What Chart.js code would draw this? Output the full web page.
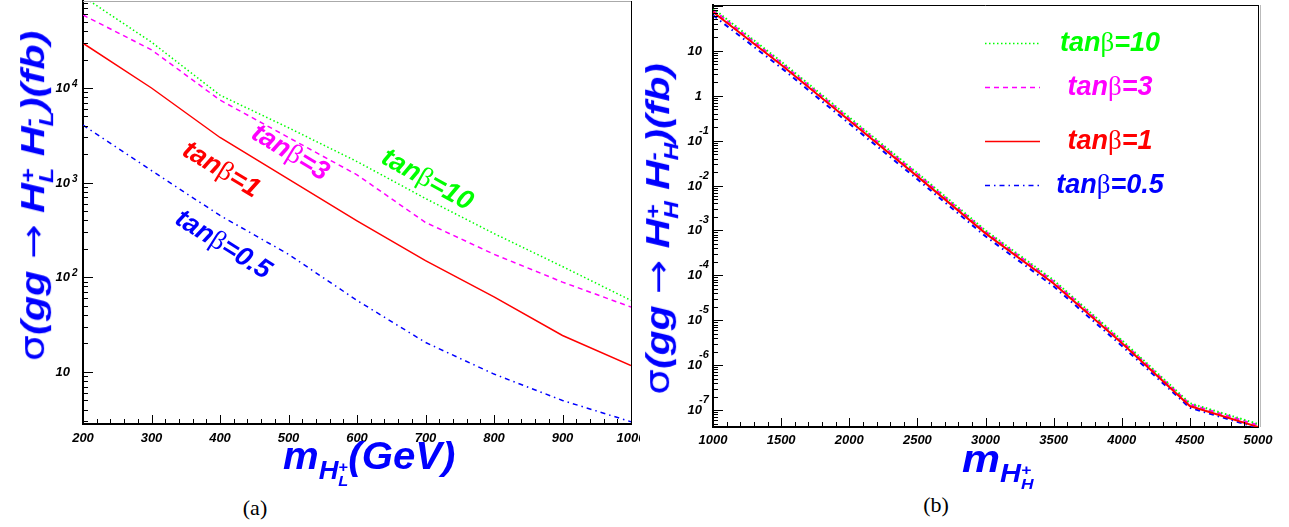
<!DOCTYPE html>
<html>
<head>
<meta charset="utf-8">
<script src="https://cdn.jsdelivr.net/npm/chart.js@4.4.1/dist/chart.umd.min.js"></script>
<style>
  body { margin: 0; background: #fff; width: 1289px; height: 527px; overflow: hidden; position: relative; }
  .box { position: absolute; top: 0; height: 446px; }
  #boxA { left: 0; width: 640px; }
  #boxB { left: 640px; width: 649px; }
  .ttl { position: absolute; color: #0000ff; font: italic bold 33px "Liberation Sans", Arial, sans-serif;
         white-space: nowrap; line-height: 1; z-index: 2; }
  .xt { font-size: 38px; }
  .sym { font-style: normal; font-weight: normal; font-family: "DejaVu Sans", sans-serif; }
  .stk { display: inline-block; font-size: 0.6em; line-height: 0.9; vertical-align: -0.45em; text-align: left; }
  .stk span { display: block; }
  .sub { font-size: 0.68em; vertical-align: -0.38em; }
  .cap { position: absolute; font: 22px "Liberation Serif", serif; color: #000; transform: translate(-50%, -50%); }
</style>
</head>
<body>
<div class="box" id="boxA"><canvas id="chartA"></canvas></div>
<div class="box" id="boxB"><canvas id="chartB"></canvas></div>

<div class="ttl" id="yTitleA"><span class="sym">σ</span>(gg <span class="sym">→</span> H<span class="stk"><span>+</span><span>L</span></span> H<span class="stk"><span>-</span><span>L</span></span>)(fb)</div>
<div class="ttl" id="yTitleB"><span class="sym">σ</span>(gg <span class="sym">→</span> H<span class="stk"><span>+</span><span>H</span></span> H<span class="stk"><span>-</span><span>H</span></span>)(fb)</div>
<div class="ttl xt" id="xTitleA">m<span class="sub">H<span class="stk"><span>+</span><span>L</span></span></span>(GeV)</div>
<div class="ttl xt" id="xTitleB">m<span class="sub">H<span class="stk"><span>+</span><span>H</span></span></span></div>
<div class="cap" style="left:255px; top:508px;">(a)</div>
<div class="cap" style="left:936px; top:505px;">(b)</div>

<script>
// light charged Higgs, panel (a)
const massL = [200, 300, 400, 500, 600, 700, 800, 900, 1000];
const xsecL_tb10 = [92500, 30500, 8400, 3800, 1670, 680, 290, 130, 57];
const xsecL_tb3 = [59000, 25300, 7460, 3000, 1210, 380, 175, 89, 48.5];
const xsecL_tb1 = [29700, 10000, 3000, 1090, 395, 150, 62, 24.3, 11.7];
const xsecL_tb05 = [4060, 1340, 450, 175, 57, 20.5, 9.5, 5.0, 2.98];

// heavy charged Higgs, panel (b)
const massH = [1000, 1500, 2000, 2500, 3000, 3500, 4000, 4500, 5000];
const xsecH_tb10 = [88, 5.8, 0.33, 0.019, 1.0e-3, 7.8e-5, 3.6e-6, 1.42e-7, 4.9e-8];
const xsecH_tb3 = [82, 5.4, 0.31, 0.018, 9.5e-4, 7.3e-5, 3.4e-6, 1.35e-7, 4.6e-8];
const xsecH_tb1 = [73, 4.9, 0.28, 0.016, 8.6e-4, 6.6e-5, 3.1e-6, 1.23e-7, 4.2e-8];
const xsecH_tb05 = [62, 4.2, 0.24, 0.0138, 7.4e-4, 5.7e-5, 2.7e-6, 1.12e-7, 4.0e-8];

const tanBetaLabels = ['10', '3', '1', '0.5'];
const lineColors = ['#00ff00', '#ff00ff', '#ff0000', '#0000ff'];
const lineDashes = [[1.5, 2.5], [5, 4], [], [5, 4, 1.5, 4]];

const SANS = '"Liberation Sans", Arial, sans-serif';

const drawTan = (ctx, value, x, y, angle, color, size) => {
  const parts = [
    ['tan', `italic bold ${size}px ${SANS}`],
    ['β', `${size}px "Liberation Serif", serif`],
    ['=' + value, `italic bold ${size}px ${SANS}`]
  ];
  ctx.save();
  let total = 0;
  const widths = parts.map(([t, f]) => {
    ctx.font = f;
    const w = ctx.measureText(t).width;
    total += w;
    return w;
  });
  ctx.translate(x, y);
  ctx.rotate(angle * Math.PI / 180);
  ctx.fillStyle = color;
  ctx.textBaseline = 'middle';
  ctx.textAlign = 'left';
  let cx = -total / 2;
  parts.forEach(([t, f], i) => {
    ctx.font = f;
    ctx.fillText(t, cx, 0);
    cx += widths[i];
  });
  ctx.restore();
};

// inward ticks, frame and power-of-ten labels
const axisDecor = (cfg) => ({
  id: 'axisDecor',
  afterDraw(chart) {
    const { ctx, chartArea: a } = chart;
    const x = chart.scales.x;
    const y = chart.scales.y;
    ctx.save();
    ctx.strokeStyle = '#000';
    ctx.lineWidth = 1;

    const nMinor = Math.round((x.max - x.min) / cfg.xMinor);
    const perMajor = Math.round(cfg.xMajor / cfg.xMinor);
    for (let i = 0; i <= nMinor; i++) {
      const px = Math.round(x.getPixelForValue(x.min + i * cfg.xMinor)) + 0.5;
      const len = i % perMajor === 0 ? 9 : 5;
      ctx.beginPath();
      ctx.moveTo(px, a.bottom);
      ctx.lineTo(px, a.bottom - len);
      ctx.stroke();
    }

    const e0 = Math.floor(Math.log10(y.min));
    const e1 = Math.ceil(Math.log10(y.max));
    for (let e = e0; e <= e1; e++) {
      for (let k = 1; k <= 9; k++) {
        const v = k * Math.pow(10, e);
        if (v < y.min || v > y.max) continue;
        const py = Math.round(y.getPixelForValue(v)) + 0.5;
        ctx.beginPath();
        ctx.moveTo(a.left, py);
        ctx.lineTo(a.left + (k === 1 ? 10 : 5), py);
        ctx.stroke();
        if (k === 1 && py > a.top + 10) {
          const s = cfg.label;
          ctx.fillStyle = '#000';
          ctx.textBaseline = 'middle';
          let base = '10';
          let exp = '';
          if (e === 0) base = '1';
          else if (e !== 1) exp = String(e);
          ctx.font = `italic bold 13px ${SANS}`;
          ctx.textAlign = 'right';
          ctx.fillText(base, a.left - s.baseGap, py);
          if (exp) {
            ctx.font = `italic bold ${s.expSize}px ${SANS}`;
            ctx.textAlign = 'left';
            ctx.fillText(exp, a.left - s.expGap, py - s.expRise);
          }
        }
      }
    }

    // top and right frame
    ctx.strokeStyle = cfg.topColor;
    ctx.beginPath();
    ctx.moveTo(a.left, a.top + 0.5);
    ctx.lineTo(a.right, a.top + 0.5);
    ctx.stroke();
    ctx.strokeStyle = '#000';
    ctx.beginPath();
    ctx.moveTo(a.right + 0.5, a.top);
    ctx.lineTo(a.right + 0.5, a.bottom);
    ctx.stroke();
    if (cfg.shadow) {
      ctx.strokeStyle = '#bbb';
      ctx.beginPath();
      ctx.moveTo(a.right + 2.5, a.top);
      ctx.lineTo(a.right + 2.5, a.bottom);
      ctx.stroke();
    }
    ctx.restore();
    if (cfg.extra) cfg.extra(chart);
  }
});

const makeSets = (series, width) => series.map((data, i) => ({
  label: 'tanβ=' + tanBetaLabels[i],
  data,
  borderColor: lineColors[i],
  borderDash: lineDashes[i],
  borderWidth: width,
  pointRadius: 0,
  tension: 0,
  fill: false,
  order: i === 2 ? 0 : 1
}));

const makePanel = (canvasId, masses, series, o) => {
  const sets = makeSets(series, o.lineWidth);
  return new Chart(document.getElementById(canvasId), {
    type: 'line',
    data: {
      labels: masses,
      datasets: sets.map((s) => ({ ...s, data: s.data.map((v, j) => ({ x: masses[j], y: v })) }))
    },
    options: {
      responsive: true,
      maintainAspectRatio: false,
      animation: false,
      events: [],
      layout: { padding: o.padding },
      plugins: { legend: { display: false }, tooltip: { enabled: false } },
      scales: {
        x: {
          type: 'linear',
          min: o.xMin,
          max: o.xMax,
          grid: { display: false, drawTicks: false },
          border: { color: '#000', width: 2 },
          ticks: {
            stepSize: o.xMajor,
            autoSkip: false,
            maxRotation: 0,
            padding: o.xPad,
            color: '#000',
            font: { family: SANS, size: 13, style: 'italic', weight: 'bold' },
            callback: (v) => String(v)
          },
          afterFit: (scale) => {
            scale.height = o.xHeight;
            scale.paddingLeft = 0;
            scale.paddingRight = 0;
          }
        },
        y: {
          type: 'logarithmic',
          min: o.yMin,
          max: o.yMax,
          grid: { display: false, drawTicks: false },
          border: { color: '#000', width: 2 },
          ticks: { display: false },
          afterFit: (scale) => {
            scale.width = o.yWidth;
            scale.paddingTop = 0;
            scale.paddingBottom = 0;
          }
        }
      }
    },
    plugins: [axisDecor(o.decor)]
  });
};

makePanel('chartA', massL, [xsecL_tb10, xsecL_tb3, xsecL_tb1, xsecL_tb05], {
  lineWidth: 1.5,
  padding: { top: 1, right: 9, left: 0, bottom: 0 },
  xMin: 200, xMax: 1000, xMajor: 100, xPad: 7, xHeight: 22,
  yMin: 2.82, yMax: 83000, yWidth: 83,
  decor: {
    xMinor: 20, xMajor: 100, topColor: '#aaa', shadow: false,
    label: { baseGap: 13, expGap: 11, expRise: 4, expSize: 10 },
    extra: (chart) => {
      const ctx = chart.ctx;
      drawTan(ctx, tanBetaLabels[0], 427, 180, 29, lineColors[0], 27);
      drawTan(ctx, tanBetaLabels[1], 290, 153, 31, lineColors[1], 27);
      drawTan(ctx, tanBetaLabels[2], 221, 170, 31, lineColors[2], 27);
      drawTan(ctx, tanBetaLabels[3], 223, 245, 32, lineColors[3], 27);
    }
  }
});

makePanel('chartB', massH, [xsecH_tb10, xsecH_tb3, xsecH_tb1, xsecH_tb05], {
  lineWidth: 2,
  padding: { top: 5, right: 31, left: 0, bottom: 0 },
  xMin: 1000, xMax: 5000, xMajor: 500, xPad: 6, xHeight: 19,
  yMin: 4.19e-8, yMax: 105, yWidth: 73,
  decor: {
    xMinor: 100, xMajor: 500, topColor: '#000', shadow: true,
    label: { baseGap: 11, expGap: 14, expRise: 11, expSize: 11 },
    extra: (chart) => {
      const ctx = chart.ctx;
      const a = chart.chartArea;
      const rows = [38, 82, 136, 180];
      rows.forEach((dy, i) => {
        const ly = a.top + dy + 0.5;
        ctx.save();
        ctx.strokeStyle = lineColors[i];
        ctx.lineWidth = 1.5;
        ctx.setLineDash(lineDashes[i]);
        ctx.beginPath();
        ctx.moveTo(a.left + 272, ly);
        ctx.lineTo(a.left + 327, ly);
        ctx.stroke();
        ctx.restore();
        drawTan(ctx, tanBetaLabels[i], a.left + 397, a.top + dy + 1, 0, lineColors[i], 27);
      });
    }
  }
});

// axis titles: stretched to the reference length
const fitY = (id, cx, cy, len) => {
  const el = document.getElementById(id);
  el.style.left = cx + 'px';
  el.style.top = cy + 'px';
  const k = len / el.offsetWidth;
  el.style.transform = `translate(-50%, -50%) rotate(-90deg) scale(${k}, 1)`;
};
const fitX = (id, left, top, len) => {
  const el = document.getElementById(id);
  el.style.left = left + 'px';
  el.style.top = top + 'px';
  el.style.transformOrigin = 'left center';
  const k = len / el.offsetWidth;
  el.style.transform = `scale(${k}, 1)`;
};
fitY('yTitleA', 36, 196, 330);
fitY('yTitleB', 661, 229, 332);
fitX('xTitleA', 283, 437, 172);
fitX('xTitleB', 962, 440, 72);
</script>
</body>
</html>
